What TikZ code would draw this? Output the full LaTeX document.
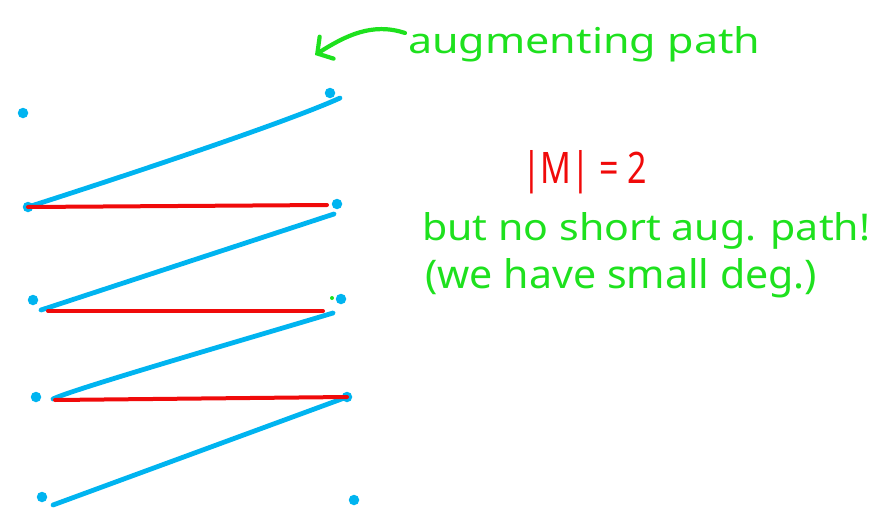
\documentclass[tikz,border=0pt]{standalone}
\usepackage{fontspec}
\setmainfont{Noto Sans}
\usetikzlibrary{arrows.meta}
\definecolor{penblue}{RGB}{0,180,240}
\definecolor{penred}{RGB}{240,10,10}
\definecolor{pengreen}{RGB}{30,225,30}
\begin{document}
\begin{tikzpicture}[x=1pt,y=-1pt,
  dot/.style={circle,fill=penblue,inner sep=0pt,minimum size=10.5pt},
  gdot/.style={circle,fill=pengreen,inner sep=0pt,minimum size=4pt},
  bedge/.style={penblue,line width=4.8pt,line cap=round},
  redge/.style={penred,line width=4pt,line cap=round},
  note/.style={text=pengreen,anchor=base west,inner sep=0pt},
  garrow/.style={pengreen,line width=4.2pt,line cap=round,line join=round,
    -{Straight Barb[length=11pt,width=26pt,line cap=round]}}]
\useasboundingbox (0,0) rectangle (875,519);
% left vertices
\node[dot] (L1) at (23,113) {};
\node[dot] (L2) at (28,207) {};
\node[dot] (L3) at (33,300) {};
\node[dot] (L4) at (36,397) {};
\node[dot] (L5) at (42,497) {};
% right vertices
\node[dot] (R1) at (330,93) {};
\node[dot] (R2) at (337,204) {};
\node[dot] (R3) at (341,299) {};
\node[dot] (R4) at (347,397) {};
\node[dot] (R5) at (354,500) {};
\node[gdot] (g) at (332,298) {};
% blue (non-matching) edges of the augmenting path
\draw[bedge] (L2.center) .. controls ([shift={(100,-32)}]L2.center) and ([shift={(-40,28)}]R1.center) .. ([shift={(10,5)}]R1.center);
\draw[bedge] ([shift={(8,10)}]L3.center) -- ([shift={(-3,10)}]R2.center);
\draw[bedge] ([shift={(17,2)}]L4.center) .. controls ([shift={(34,-7)}]L4.center) and ([shift={(-91,39)}]R3.center) .. ([shift={(-8,14)}]R3.center);
\draw[bedge] ([shift={(11,8)}]L5.center) -- (R4.center);
% red matching edges
\draw[redge] (L2.center) -- ([shift={(-10,1)}]R2.center);
\draw[redge] ([shift={(15,11)}]L3.center) -- ([shift={(-18,12)}]R3.center);
\draw[redge] ([shift={(19,3)}]L4.center) -- (R4.center);
% texts
\node[note] (aug) at (408,54) {\resizebox{352pt}{27pt}{augmenting path}};
\node[note,text=penred] (M) at (522,183) {\resizebox{125pt}{33pt}{|M| = 2}};
\node[note] (but) at (422,240) {\resizebox{448pt}{28pt}{but no short aug. path!}};
\node[note] (we) at (425,288) {\resizebox{392pt}{30pt}{(we have small deg.)}};
% arrow
\coordinate (tail) at (405,33);
\coordinate (tip) at (315,55);
\draw[garrow] (tail) .. controls (372,22) and (345,36) .. (tip);
\end{tikzpicture}
\end{document}
